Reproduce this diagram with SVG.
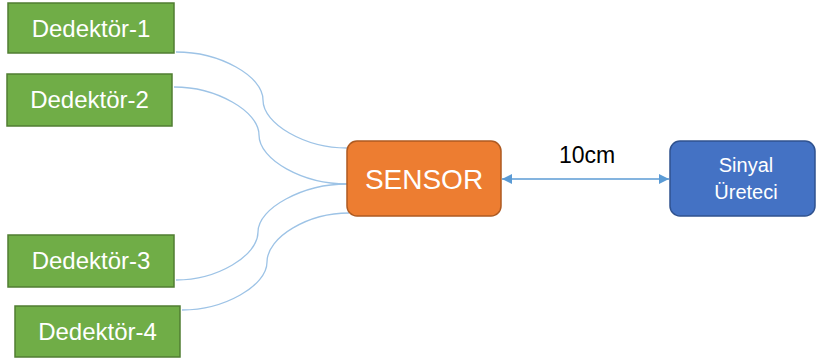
<svg xmlns="http://www.w3.org/2000/svg" width="816" height="363" viewBox="0 0 816 363">
<style>
.det{fill:#70AD47;stroke:#507E32;stroke-width:1.5}
.sen{fill:#ED7D31;stroke:#AE5A21;stroke-width:1.5}
.sig{fill:#4472C4;stroke:#2F528F;stroke-width:1.5}
.t{font-family:"Liberation Sans",Arial,sans-serif;fill:#ffffff;text-anchor:middle}
.wire{fill:none;stroke:#9DC3E6;stroke-width:1.3}
.arr{fill:none;stroke:#5B9BD5;stroke-width:1.5}
</style>
<defs>
<marker id="ah" viewBox="0 0 10 10" refX="10" refY="5" markerWidth="10" markerHeight="10" markerUnits="userSpaceOnUse" orient="auto-start-reverse">
<path d="M0,0 L10,5 L0,10 Z" fill="#5B9BD5"/>
</marker>
</defs>
<g id="connectors">
<path class="wire" d="M176,52 C220,52 263,76 263,100 C263,124 305,148 347,148"/>
<path class="wire" d="M174,87 C216,87 259,111 259,135 C259,160 303,184 347,184"/>
<path class="wire" d="M176,280 C217,280 258,256 258,232 C258,208 303,184 347,184"/>
<path class="wire" d="M182,310 C224,310 267,286 267,262 C267,237 308,213 349,213"/>
<path class="arr" d="M502,179 L669,179" marker-start="url(#ah)" marker-end="url(#ah)"/>
<text x="587" y="163" font-family="Liberation Sans,Arial,sans-serif" font-size="23" fill="#000000" text-anchor="middle">10cm</text>
</g>
<g id="d1"><rect class="det" x="8" y="3" width="166" height="50"/><text class="t" x="91" y="37" font-size="24">Dedektör-1</text></g>
<g id="d2"><rect class="det" x="7" y="74" width="165" height="52"/><text class="t" x="89.5" y="108" font-size="24">Dedektör-2</text></g>
<g id="d3"><rect class="det" x="8" y="235" width="166" height="52"/><text class="t" x="91" y="269" font-size="24">Dedektör-3</text></g>
<g id="d4"><rect class="det" x="15" y="306" width="165" height="51"/><text class="t" x="97.5" y="340" font-size="24">Dedektör-4</text></g>
<g id="sensor"><rect class="sen" x="347" y="141" width="154" height="75" rx="10"/><text class="t" x="424" y="189" font-size="28">SENSOR</text></g>
<g id="sinyal"><rect class="sig" x="670" y="141" width="145" height="75" rx="10"/><text class="t" x="746" y="172" font-size="20">Sinyal</text><text class="t" x="746" y="199" font-size="20">Üreteci</text></g>
</svg>
